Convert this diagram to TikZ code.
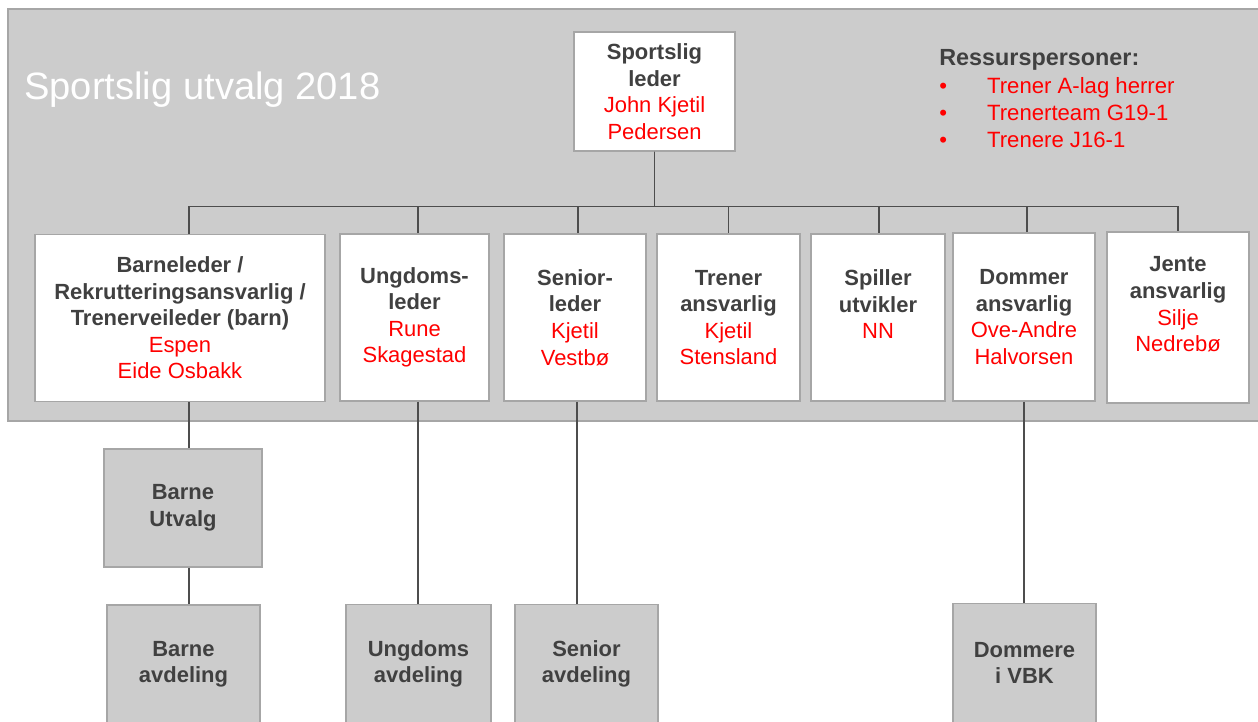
\documentclass[tikz,border=0pt]{standalone}
\usepackage{fontspec}
\setmainfont{Liberation Sans}
\definecolor{panel}{HTML}{CCCCCC}
\definecolor{frame}{HTML}{A6A6A6}
\definecolor{ink}{HTML}{404040}
\definecolor{wirecol}{HTML}{4D4D4D}
\newcommand{\navn}[1]{\textcolor{red}{#1}}
\tikzset{
  verv/.style={draw=frame, fill=white, line width=0.7pt, inner sep=0pt, align=center,
    text=ink, minimum height=3.34cm, font=\fontsize{12.5}{15.1}\selectfont},
  avd/.style={draw=frame, fill=panel, line width=0.7pt, inner sep=0pt, align=center,
    text=ink, minimum height=2.38cm, font=\fontsize{12.5}{15.1}\selectfont\bfseries},
  wire/.style={draw=wirecol, line width=0.75pt},
  tekst/.style={anchor=base west, inner sep=0pt}
}
\begin{document}
\begin{tikzpicture}[x=0.02cm, y=-0.02cm]
\useasboundingbox (0,0) rectangle (1258,722);
\draw[draw=frame, fill=panel, line width=0.8pt] (8,9) rectangle (1270,421);

\node[tekst, text=white, font=\fontsize{21.7}{26}\selectfont] (tittel) at (24,100) {Sportslig utvalg 2018};

\node[verv, minimum width=3.22cm, minimum height=2.38cm] (leder) at (654.5,91.5)
  {\textbf{Sportslig}\\\textbf{leder}\\\navn{John Kjetil}\\\navn{Pedersen}};

\node[tekst, text=ink, font=\fontsize{13.3}{16}\selectfont\bfseries] (ressurs) at (939,66) {Ressurspersoner:};
\foreach \p [count=\i] in {Trener A-lag herrer, Trenerteam G19-1, Trenere J16-1}
  \node[tekst, text=red, font=\fontsize{12.6}{15}\selectfont] (ressurs\i) at (939,{67+27*\i})
    {\makebox[27.2pt][l]{\textbullet}\p};

\node[verv, minimum width=5.8cm] (barn) at (180,318)
  {\textbf{Barneleder /}\\\textbf{Rekrutteringsansvarlig /}\\\textbf{Trenerveileder (barn)}\\\navn{Espen}\\\navn{Eide Osbakk}};
\node[verv, minimum width=2.98cm] (ungdom) at (414.5,317.5)
  {\textbf{Ungdoms-}\\\textbf{leder}\\\navn{Rune}\\\navn{Skagestad}};
\node[verv, minimum width=2.84cm] (senior) at (575,317.5)
  {\textbf{Senior-}\\\textbf{leder}\\\navn{Kjetil}\\\navn{Vestbø}};
\node[verv, minimum width=2.86cm] (trener) at (728.5,317.5)
  {\textbf{Trener}\\\textbf{ansvarlig}\\\navn{Kjetil}\\\navn{Stensland}};
\node[verv, minimum width=2.68cm] (spiller) at (878,317.5)
  {\textbf{Spiller}\\\textbf{utvikler}\\\navn{NN}\\\mbox{}};
\node[verv, minimum width=2.84cm, minimum height=3.36cm] (dommer) at (1024,317)
  {\textbf{Dommer}\\\textbf{ansvarlig}\\\navn{Ove-Andre}\\\navn{Halvorsen}};
\node[verv, minimum width=2.84cm, minimum height=3.42cm] (jente) at (1178,317.5)
  {\textbf{Jente}\\\textbf{ansvarlig}\\\navn{Silje}\\\navn{Nedrebø}\\\mbox{}};

\node[avd, minimum width=3.16cm, minimum height=2.36cm] (barneutvalg) at (183,508) {Barne\\Utvalg};
\node[avd, minimum width=3.06cm] (barneavd) at (183.5,664.5) {Barne\\avdeling};
\node[avd, minimum width=2.9cm] (ungdomavd) at (418.5,664) {Ungdoms\\avdeling};
\node[avd, minimum width=2.86cm] (senioravd) at (586.5,664) {Senior\\avdeling};
\node[avd, minimum width=2.86cm] (dommere) at (1024.5,663) {Dommere\\i VBK};

\foreach \n/\s in {barn/9,ungdom/3.5,senior/3,trener/0,spiller/1,dommer/3,jente/0}
  \draw[wire] (leder.south) -- ++(0,55) -| ([xshift=\s*0.02cm]\n.north);

\coordinate (barnfot) at ([xshift=0.18cm]barn.south);
\draw[wire] (barnfot) -- (barnfot |- barneutvalg.north);
\draw[wire] (barnfot |- barneutvalg.south) -- (barnfot |- barneavd.north);
\draw[wire] ([xshift=0.07cm]ungdom.south) -- ([xshift=0.07cm]ungdom.south |- ungdomavd.north);
\draw[wire] ([xshift=0.04cm]senior.south) -- ([xshift=0.04cm]senior.south |- senioravd.north);
\draw[wire] (dommer.south) -- (dommer.south |- dommere.north);
\end{tikzpicture}
\end{document}
